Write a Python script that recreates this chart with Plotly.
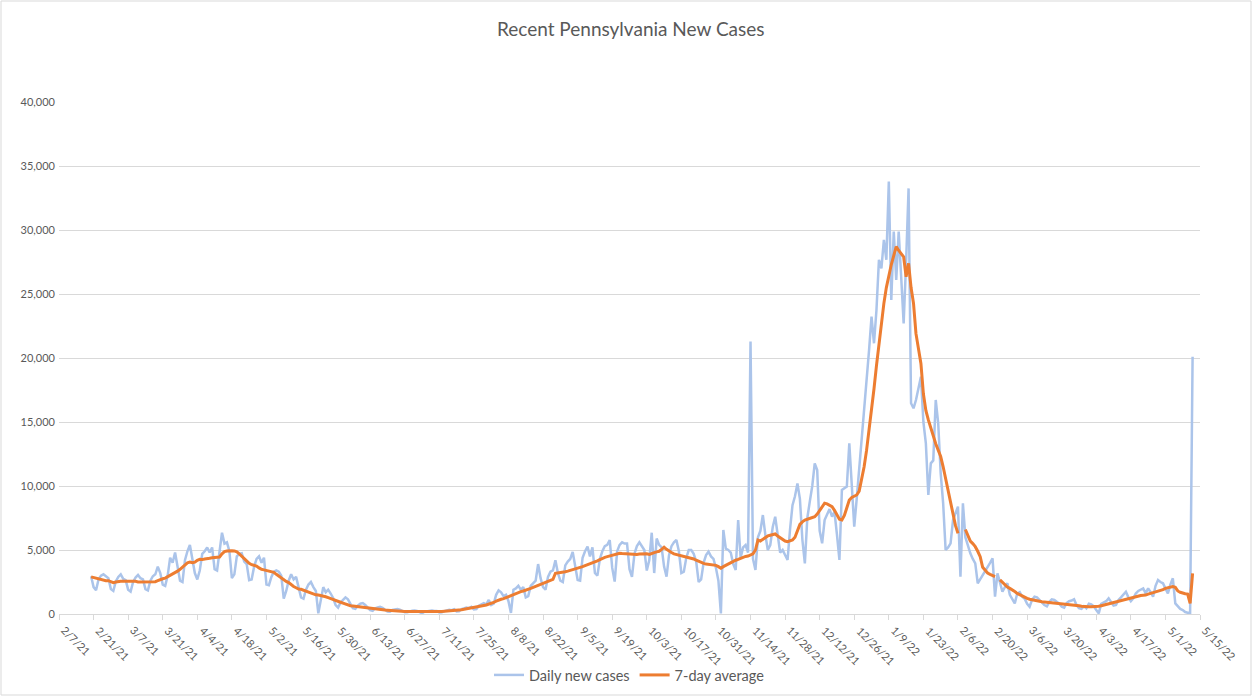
import pandas as pd
import plotly.graph_objects as go

title = "Recent Pennsylvania New Cases"
series_names = ["Daily new cases", "7-day average"]
first_date = "2021-02-20"

# daily values, one row per week (Sat..Fri)
daily_new_cases = [
    2950, 2100, 1850, 2700, 3000, 3100, 2950,
    2800, 1950, 1800, 2550, 2900, 3100, 2750,
    2650, 1900, 1750, 2500, 2850, 3050, 2800,
    2700, 1950, 1850, 2600, 2950, 3100, 3700,
    3200, 2300, 2200, 3000, 4400, 4000, 4800,
    3600, 2600, 2500, 4200, 4900, 5400, 4300,
    3200, 2700, 3400, 4700, 4900, 5200, 4800,
    5200, 3500, 3400, 4800, 6350, 5500, 5600,
    4900, 2800, 3100, 4500, 4700, 4750, 4100,
    3900, 2650, 2700, 3700, 4300, 4500, 4000,
    4400, 2300, 2250, 2900, 3300, 3400, 3300,
    3000, 1200, 1800, 2600, 3100, 2700, 2900,
    2100, 1300, 1200, 1900, 2300, 2500, 2100,
    1800, 50, 1000, 2100, 1700, 1900, 1600,
    1250, 700, 500, 900, 1100, 1300, 1150,
    750, 450, 400, 650, 800, 850, 700,
    500, 300, 250, 450, 520, 560, 480,
    350, 200, 180, 320, 360, 390, 340,
    250, 140, 130, 220, 250, 270, 240,
    150, 60, 180, 200, 260, 280, 230,
    240, 120, 130, 230, 290, 330, 300,
    380, 200, 210, 380, 450, 500, 460,
    560, 350, 380, 650, 780, 850, 760,
    1100, 700, 800, 1500, 1850, 1700, 1400,
    1500, 1000, 80, 1900, 2000, 2200, 1900,
    2100, 1300, 1400, 2200, 2400, 2600, 3900,
    2800, 2100, 1900, 2900, 3300, 3400, 4200,
    3200, 2600, 2500, 3800, 4100, 4300, 4850,
    3600, 2650, 2600, 4400, 4900, 5260, 4500,
    5200, 3200, 3000, 4300, 4900, 5300, 5400,
    5780, 3600, 2530, 4900, 5400, 5600, 5500,
    5500, 3500, 2900, 4700, 5300, 5600, 5300,
    5000, 3400, 4200, 6350, 3200, 5900, 5400,
    5200, 3700, 2920, 4600, 5300, 5600, 5780,
    4900, 3200, 3300, 4400, 5000, 5000, 4700,
    4100, 2500, 2700, 4000, 4600, 4870, 4500,
    4300, 3600, 2600, 50, 6560, 5100, 5000,
    4800, 3900, 3440, 7340, 4400, 5200, 5390,
    4800, 21280, 4300, 3440, 6000, 6500, 7730,
    6200, 5000, 5390, 6800, 7600, 6000, 4800,
    5000, 4600, 4220, 6600, 8500, 9200, 10200,
    9000, 5800, 3960, 7500, 8780, 10000, 11770,
    11250, 6500, 5520, 7340, 7800, 8200, 7600,
    8000, 6200, 4220, 9690, 9800, 9950, 13330,
    9500, 6820, 9000, 11250, 13500, 15570, 18000,
    20620, 23230, 21150, 23750, 27670, 27000, 29220,
    27670, 33780, 24530, 29870, 26090, 29870, 26350,
    22700, 27500, 33250, 16460, 16070, 16720, 17600,
    18540, 15000, 13330, 9300, 11770, 12000, 16720,
    14900, 11000, 8650, 5000, 5200, 5520, 7340,
    7800, 8390, 2920, 8650, 6000, 5260, 4740,
    4300, 3960, 2400, 2700, 3050, 3300, 3700,
    4000, 4350, 1350, 3180, 2400, 1740, 2100,
    2400, 1500, 1100, 830, 1600, 1700, 1350,
    1200, 800, 570, 1100, 1350, 1300, 1100,
    900, 700, 600, 950, 1150, 1100, 950,
    800, 570, 500, 850, 1000, 1050, 1150,
    700, 450, 400, 600, 440, 800, 750,
    600, 310, 50, 800, 900, 1000, 1220,
    900, 650, 700, 1090, 1300, 1500, 1740,
    1300, 1000, 1220, 1600, 1800, 1900, 2000,
    1610, 2000, 1700, 1350, 2200, 2650, 2500,
    2400, 2000, 1610, 2300, 2790, 830, 600,
    400, 310, 150, 100, 100, 20100,
]

seven_day_avg = [
    2900, 2850, 2750, 2700, 2650, 2650, 2600,
    2600, 2550, 2450, 2500, 2550, 2550, 2550,
    2550, 2600, 2600, 2550, 2550, 2500, 2500,
    2480, 2480, 2480, 2480, 2500, 2520, 2600,
    2700, 2750, 2800, 2900, 3050, 3150, 3250,
    3350, 3490, 3650, 3800, 4000, 4050, 4000,
    4050, 4200, 4270, 4250, 4300, 4300, 4350,
    4400, 4420, 4430, 4450, 4700, 4870, 4920,
    4950, 4950, 4930, 4850, 4700, 4500, 4350,
    4150, 3960, 3850, 3800, 3750, 3600, 3490,
    3450, 3400, 3350, 3300, 3250, 3100, 2950,
    2790, 2650, 2550, 2450, 2270, 2150, 2050,
    1950, 1930, 1850, 1800, 1750, 1650, 1550,
    1500, 1480, 1450, 1400, 1350, 1280, 1200,
    1100, 1040, 980, 920, 850, 780, 700,
    650, 625, 600, 570, 530, 500, 470,
    440, 420, 400, 380, 360, 340, 320,
    310, 300, 280, 260, 250, 240, 225,
    210, 205, 200, 195, 190, 185, 180,
    180, 180, 175, 175, 180, 180, 180,
    185, 190, 200, 210, 225, 240, 260,
    280, 300, 320, 340, 370, 400, 440,
    470, 500, 540, 580, 620, 660, 700,
    750, 820, 900, 1000, 1090, 1150, 1200,
    1280, 1350, 1480, 1550, 1600, 1680, 1750,
    1800, 1850, 1930, 2000, 2080, 2150, 2250,
    2320, 2400, 2450, 2500, 2580, 2700, 3180,
    3200, 3230, 3260, 3300, 3350, 3400, 3450,
    3500, 3570, 3620, 3700, 3780, 3850, 3900,
    3960, 4050, 4150, 4250, 4350, 4430, 4480,
    4530, 4600, 4680, 4740, 4740, 4720, 4700,
    4690, 4680, 4660, 4660, 4650, 4680, 4700,
    4690, 4700, 4650, 4750, 4800, 4850, 4900,
    5050, 5210, 5050, 4900, 4800, 4700, 4650,
    4610, 4560, 4500, 4470, 4430, 4400, 4300,
    4200, 4100, 4010, 3950, 3900, 3880, 3850,
    3830, 3800, 3700, 3570, 3700, 3800, 3950,
    4050, 4150, 4200, 4270, 4350, 4450, 4500,
    4530, 4600, 4700, 5000, 5780, 5700, 5850,
    6000, 6100, 6150, 6200, 6250, 6100, 5950,
    5800, 5700, 5650, 5700, 5780, 6000, 6500,
    7000, 7200, 7340, 7400, 7450, 7500, 7600,
    7800, 8100, 8400, 8650, 8600, 8500, 8390,
    8100, 7700, 7400, 7340, 7700, 8300, 8900,
    9100, 9200, 9300, 9600, 10500, 11500, 12800,
    14300, 16000, 17600, 19400, 21150, 22800, 24270,
    25500, 26500, 27300, 28000, 28700, 28400, 28100,
    27900, 26350, 27400, 25500, 24270, 21900, 20800,
    19580, 17200, 15900, 15160, 14500, 13850, 13300,
    12800, 12300, 11500, 10600, 9690, 8800, 7700,
    6900, 6300, None, None, 6600, 6100, 5700,
    5500, 5260, 4900, 4480, 3650, 3400, 3200,
    3100, 3000, 2920, None, 2660, 2450, 2250,
    2100, 2000, 1900, 1750, 1610, 1500, 1400,
    1300, 1220, 1150, 1100, 1050, 1000, 980,
    960, 940, 920, 900, 880, 850, 830,
    820, 810, 800, 790, 770, 755, 740,
    700, 650, 600, 570, 570, 560, 560,
    570, 570, 600, 650, 700, 780, 830,
    880, 930, 980, 1050, 1090, 1150, 1200,
    1250, 1300, 1350, 1400, 1420, 1450, 1470,
    1480, 1550, 1600, 1650, 1740, 1800, 1850,
    1900, 2000, 2050, 2100, 2140, 2080, 1800,
    1700, 1610, 1580, 1560, 830, 3180,
]

tick_dates = [
    "2021-02-07", "2021-02-21", "2021-03-07", "2021-03-21", "2021-04-04", "2021-04-18",
    "2021-05-02", "2021-05-16", "2021-05-30", "2021-06-13", "2021-06-27", "2021-07-11",
    "2021-07-25", "2021-08-08", "2021-08-22", "2021-09-05", "2021-09-19", "2021-10-03",
    "2021-10-17", "2021-10-31", "2021-11-14", "2021-11-28", "2021-12-12", "2021-12-26",
    "2022-01-09", "2022-01-23", "2022-02-06", "2022-02-20", "2022-03-06", "2022-03-20",
    "2022-04-03", "2022-04-17", "2022-05-01", "2022-05-15",
]
tick_labels = [
    "2/7/21", "2/21/21", "3/7/21", "3/21/21", "4/4/21", "4/18/21", "5/2/21", "5/16/21",
    "5/30/21", "6/13/21", "6/27/21", "7/11/21", "7/25/21", "8/8/21", "8/22/21", "9/5/21",
    "9/19/21", "10/3/21", "10/17/21", "10/31/21", "11/14/21", "11/28/21", "12/12/21",
    "12/26/21", "1/9/22", "1/23/22", "2/6/22", "2/20/22", "3/6/22", "3/20/22", "4/3/22",
    "4/17/22", "5/1/22", "5/15/22",
]
y_ticks = [0, 5000, 10000, 15000, 20000, 25000, 30000, 35000, 40000]

dates = pd.date_range(first_date, periods=len(daily_new_cases), freq="D")

FONT = "Lato, 'Open Sans', sans-serif"
GREY = "#595959"

fig = go.Figure()
fig.add_trace(go.Scatter(
    x=dates, y=daily_new_cases, name=series_names[0], mode="lines",
    line=dict(color="#abc4ea", width=2.5), connectgaps=False,
))
fig.add_trace(go.Scatter(
    x=dates, y=seven_day_avg, name=series_names[1], mode="lines",
    line=dict(color="#ed7d31", width=3), connectgaps=False,
))

# rotated date labels that start at their tick (Excel style)
tick_annotations = [
    dict(x=d, y=0, xref="x", yref="paper", text=t, showarrow=False, textangle=45,
         xanchor="left", yanchor="top", xshift=-3, yshift=-7,
         font=dict(family=FONT, size=11, color=GREY))
    for d, t in zip(tick_dates, tick_labels)
]

fig.update_layout(
    width=1254, height=696,
    margin=dict(l=59, r=54, t=102, b=82, autoexpand=False),
    paper_bgcolor="white", plot_bgcolor="white",
    font=dict(family=FONT, color=GREY, size=11),
    title=dict(text=title, x=0.503, xanchor="center", y=1 - 29 / 696, yanchor="middle",
               font=dict(family=FONT, size=19, color=GREY)),
    showlegend=True,
    legend=dict(orientation="h", x=0.5, xanchor="center", yref="container",
                y=1 - 675 / 696, yanchor="middle",
                font=dict(family=FONT, size=14.5, color=GREY), bgcolor="rgba(0,0,0,0)"),
    xaxis=dict(
        type="date", range=[tick_dates[0], tick_dates[-1]],
        tickmode="array", tickvals=tick_dates, showticklabels=False,
        showgrid=False, showline=True, linecolor="#d9d9d9", linewidth=1,
        ticks="outside", ticklen=5, tickcolor="#d9d9d9", zeroline=False,
    ),
    yaxis=dict(
        range=[0, 40000], tickmode="array", tickvals=y_ticks, tickformat=",",
        showgrid=True, gridcolor="#d9d9d9", gridwidth=1, zeroline=False,
        showline=False, ticks="", ticklabelstandoff=3,
        tickfont=dict(family=FONT, size=11, color=GREY),
    ),
    annotations=tick_annotations,
    shapes=[dict(type="rect", xref="paper", yref="paper",
                 x0=(1 - 59) / 1141, x1=(1251 - 59) / 1141,
                 y0=(614 - 695) / 512, y1=(614 - 1) / 512,
                 line=dict(color="#d9d9d9", width=1), fillcolor="rgba(0,0,0,0)", layer="below")],
)

fig.write_html("out.html", config={"displayModeBar": False},
               post_script="document.body.style.margin='0px';")
